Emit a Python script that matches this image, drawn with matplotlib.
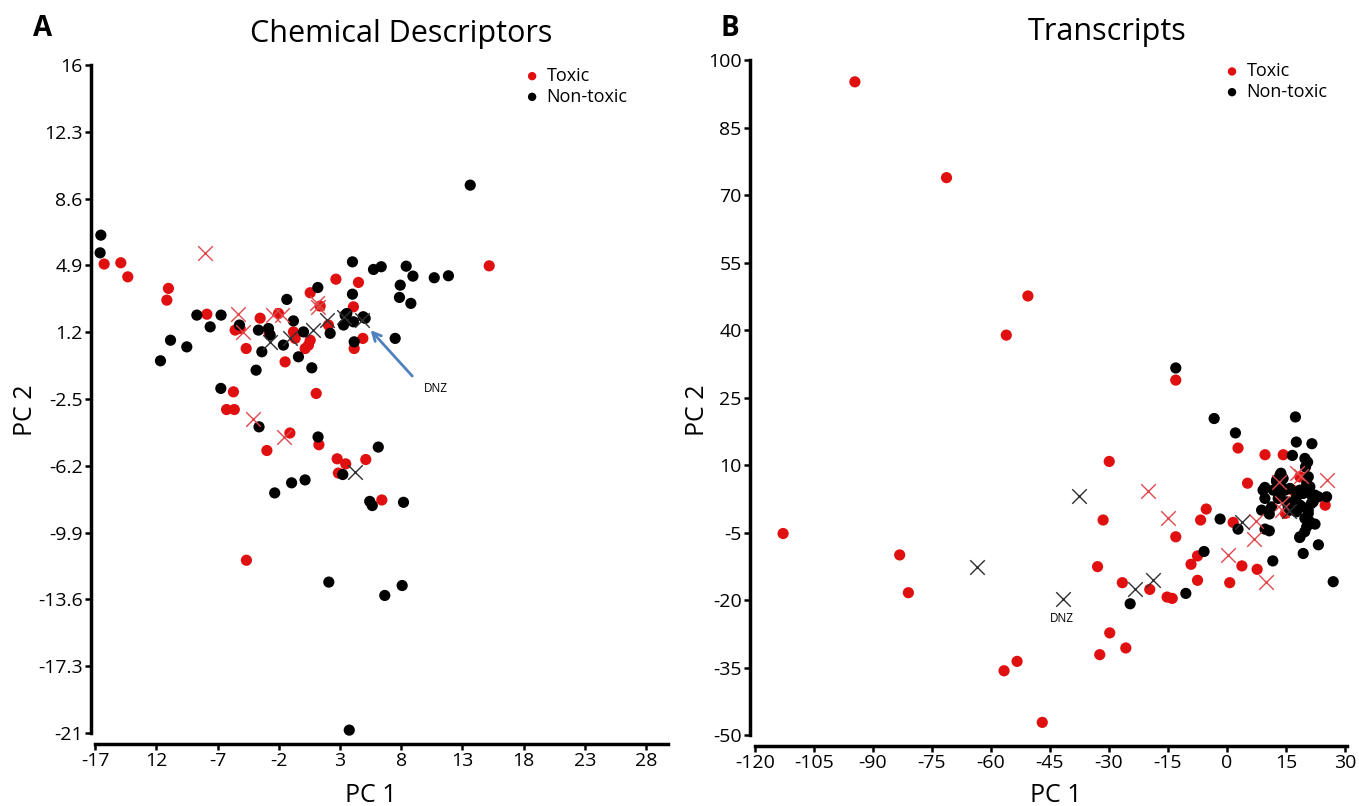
import matplotlib.pyplot as plt

plt.rcParams['font.family'] = ['Open Sans', 'DejaVu Sans']

# ---- Panel A: chemical descriptors ----
chem_tox_pc1 = [-16.26, -14.90, -14.33, -11.01, -11.14, -7.87, 2.67, 4.51, 0.57, 1.38,
                4.10, 15.19, -3.52, -5.56, -5.15, -2.78, -4.66, -0.80, -0.66, 0.43,
                0.16, 0.57, -1.48, 2.06, 4.87, 4.16, -5.70, 1.06, -2.02, -6.26,
                -5.63, -2.97, -1.09, 1.28, 2.77, 3.47, 5.11, 2.87, 6.42, -4.64]
chem_tox_pc2 = [4.98, 5.05, 4.27, 3.63, 2.98, 2.20, 4.14, 3.96, 3.39, 2.65,
                2.61, 4.88, 1.98, 1.32, 1.41, 1.14, 0.30, 1.22, 0.86, 0.49,
                0.30, 0.76, -0.44, 1.60, 0.86, 0.30, -2.10, -2.19, 2.24, -3.08,
                -3.08, -5.35, -4.38, -5.03, -5.81, -6.09, -5.85, -6.60, -8.09, -11.43]

chem_non_pc1 = [-16.53, -16.59, 1.19, -1.34, 4.02, 4.02, 5.74, 6.37, 8.41, 8.96,
                7.92, 7.86, 8.79, 10.70, 11.86, 13.64, -8.69, -6.71, 4.90, 3.56,
                -7.60, -9.51, -5.21, -3.66, -2.84, -2.70, -0.80, -1.62, -3.38, -0.39,
                0.02, 2.20, 3.29, 3.42, 4.10, 5.06, 4.16, 7.51, -3.85, 0.70,
                -6.73, -11.66, -10.84, -3.61, 1.21, 6.13, 3.23, 0.15, -0.95, -2.33,
                5.43, 5.64, 8.19, 2.09, 6.66, 8.08, 3.76]
chem_non_pc2 = [6.58, 5.60, 3.68, 3.02, 5.10, 3.31, 4.68, 4.83, 4.86, 4.31,
                3.81, 3.13, 2.80, 4.22, 4.33, 9.35, 2.15, 2.15, 2.06, 2.24,
                1.50, 0.39, 1.60, 1.32, 1.41, 1.04, 1.83, 0.49, 0.12, -0.16,
                1.22, 1.14, 1.60, 2.15, 1.78, 1.97, 0.67, 0.86, -0.90, -0.77,
                -1.91, -0.38, 0.76, -4.04, -4.60, -5.16, -6.68, -6.98, -7.14, -7.70,
                -8.17, -8.40, -8.22, -12.64, -13.38, -12.83, -20.84]

chem_tox_x_pc1 = [-8.01, -5.29, -2.43, -1.75, 1.11, -4.88, 1.24, -4.11, -1.56]
chem_tox_x_pc2 = [5.60, 2.20, 2.15, 2.15, 2.80, 1.22, 2.61, -3.58, -4.60]
chem_non_x_pc1 = [-2.70, -1.07, 0.83, 1.93, 3.29, 4.79, 4.21]
chem_non_x_pc2 = [0.67, 0.86, 1.32, 1.87, 2.06, 1.87, -6.52]

chem_xticks = [-17, -12, -7, -2, 3, 8, 13, 18, 23, 28]
chem_xlabels = ['-17', '12', '-7', '-2', '3', '8', '13', '18', '23', '28']
chem_yticks = [16, 12.3, 8.6, 4.9, 1.2, -2.5, -6.2, -9.9, -13.6, -17.3, -21]

# ---- Panel B: transcripts ----
tr_tox_pc1 = [-94.6, -71.3, -56.1, -50.6, -13.0, -112.86, -83.21, -81.0, -56.67, -53.36,
              -46.95, -29.92, -31.47, -32.89, -26.59, -29.79, -32.33, -25.70, -19.62, -15.2,
              -13.9, -13.0, -9.12, -7.47, -7.47, -6.68, -5.25, 0.72, 1.6, 3.82,
              2.83, 5.25, 7.69, 9.7, 14.33, 14.88, 25.0, 16.87, 18.57]
tr_tox_pc2 = [95.2, 73.9, 38.9, 47.6, 28.9, -5.2, -9.96, -18.36, -35.71, -33.62,
              -47.18, 10.82, -2.2, -12.56, -16.13, -27.29, -32.13, -30.64, -17.62, -19.33,
              -19.62, -5.93, -12.04, -10.18, -15.6, -2.2, 0.24, -16.13, -2.73, -12.4,
              13.8, 5.98, -13.16, 12.31, 12.31, -0.71, 1.1, 4.36, 7.4]

tr_non_pc1 = [-13.0, -24.6, -10.44, -5.81, -1.72, 2.83, -3.24, 2.17, 17.43, 17.66,
              21.62, 20.53, 16.66, 11.68, 10.79, 9.7, 19.41, 23.27, 27.04, 18.52,
              22.41, 10.79, 19.84, 9.67, 13.49, 12.64, 13.92, 16.03, 9.67, 10.51,
              13.49, 15.19, 17.73, 19.41, 21.55, 23.23, 25.36, 18.57, 20.68, 21.95,
              19.84, 21.11, 18.57, 8.83, 11.37, 16.03,
              20.0, 13.74, 14.3, 12.65, 9.2, 11.8, 14.8, 20.7, 20.3, 21.1,
              18.57, 13.05, 17.3, 22.4, 21.5, 19.1, 15.6, 17.7, 20.7, 21.1,
              20.3, 19.8]
tr_non_pc2 = [31.6, -20.82, -18.51, -9.2, -1.98, -4.22, 20.36, 17.16, 20.71, 15.13,
              14.76, 10.67, 12.16, -11.29, -4.6, -4.22, -9.64, -7.71, -15.91, -6.09,
              -3.11, -0.87, 11.49, 5.04, 7.78, 6.67, 5.18, 4.82, 2.6, -0.38,
              2.96, 1.84, 2.96, 3.71, 3.33, 2.96, 2.96, 1.11, 0.0, 1.84,
              -1.84, -2.96, -5.93, 0.0, 0.73, 0.0,
              9.6, 8.2, 7.04, 6.3, 4.44, 4.44, 4.44, 7.4, 5.9, 5.2,
              4.44, 2.6, 2.2, 3.33, 1.5, 0.73, 0.73, -0.38, -0.73, -2.6,
              -3.7, -4.8]

tr_tox_x_pc1 = [-20.18, -14.86, 0.29, 7.46, 6.93, 10.03, 25.38, 13.33, 18.85, 14.09, 17.73, 13.9]
tr_tox_x_pc2 = [4.36, -1.84, -9.96, -2.36, -6.44, -15.98, 6.73, 6.2, 7.69, 1.62, 8.16, 0.0]
tr_non_x_pc1 = [-37.54, -63.53, -41.74, -23.28, -18.73, 3.93, 15.77]
tr_non_x_pc2 = [3.22, -12.62, -19.84, -17.62, -15.6, -2.73, -0.13]

tr_xticks = [-120, -105, -90, -75, -60, -45, -30, -15, 0, 15, 30]
tr_yticks = [100, 85, 70, 55, 40, 25, 10, -5, -20, -35, -50]

RED = '#e01010'
RED_X = '#e0484c'
BLACK = '#000000'
DARK_X = '#303030'

fig = plt.figure(figsize=(13.59, 8.06), dpi=100)

axA = fig.add_axes([0.067, 0.0769, 0.4246, 0.8486])
axB = fig.add_axes([0.5519, 0.0744, 0.44, 0.857])


def style(ax, xlim, ylim, xb, yb, xt, xl, yt):
    ax.set_xlim(*xlim)
    ax.set_ylim(*ylim)
    for s in ['top', 'right']:
        ax.spines[s].set_visible(False)
    for s in ['left', 'bottom']:
        ax.spines[s].set_linewidth(2.5)
    ax.spines['bottom'].set_bounds(*xb)
    ax.spines['left'].set_bounds(*yb)
    ax.set_xticks(xt)
    ax.set_xticklabels(xl)
    ax.set_yticks(yt)
    ax.set_yticklabels([('%g' % v) for v in yt])
    ax.tick_params(direction='out', length=4, width=1.8, labelsize=14, pad=2)


def draw(ax, tx, ty, nx, ny, txx, txy, nxx, nxy):
    ax.scatter(tx, ty, s=65, color=RED, edgecolors='none', zorder=3, label='Toxic')
    ax.scatter(nx, ny, s=65, color=BLACK, edgecolors='none', zorder=3, label='Non-toxic')
    ax.scatter(txx, txy, s=110, marker='x', color=RED_X, linewidths=1.0, zorder=4)
    ax.scatter(nxx, nxy, s=110, marker='x', color=DARK_X, linewidths=1.0, zorder=4)


draw(axA, chem_tox_pc1, chem_tox_pc2, chem_non_pc1, chem_non_pc2,
     chem_tox_x_pc1, chem_tox_x_pc2, chem_non_x_pc1, chem_non_x_pc2)
style(axA, (-17.33, 29.8), (-21.61, 16.28), (-17, 29.8), (-21, 16),
      chem_xticks, chem_xlabels, chem_yticks)

draw(axB, tr_tox_pc1, tr_tox_pc2, tr_non_pc1, tr_non_pc2,
     tr_tox_x_pc1, tr_tox_x_pc2, tr_non_x_pc1, tr_non_x_pc2)
style(axB, (-121.27, 30.8), (-52.44, 101.1), (-120, 30.5), (-50, 100),
      tr_xticks, [('%g' % v) for v in tr_xticks], tr_yticks)

# DNZ annotations
axA.annotate('', xy=(5.35, 1.43), xytext=(9.06, -1.34),
             arrowprops=dict(arrowstyle='->', color='#4f81bd', lw=2, mutation_scale=15))
axA.text(10.86, -1.89, 'DNZ', fontsize=8.5, ha='center', va='center')
axB.text(-41.9, -24.2, 'DNZ', fontsize=8.5, ha='center', va='center')

for ax, lx in [(axA, 0.755), (axB, 0.797)]:
    ax.legend(loc='upper left', bbox_to_anchor=(lx, 0.99), frameon=False, fontsize=13,
              borderpad=0, borderaxespad=0, handlelength=0.6, handletextpad=0.5,
              labelspacing=0.15, markerscale=0.75)

# titles, panel letters, axis labels
fig.text(401 / 1359, 1 - 42 / 806, 'Chemical Descriptors', fontsize=22, ha='center', va='baseline')
fig.text(1107 / 1359, 1 - 40 / 806, 'Transcripts', fontsize=22, ha='center', va='baseline')
fig.text(43 / 1359, 1 - 28 / 806, 'A', fontsize=20, fontweight='bold', ha='center', va='center')
fig.text(730 / 1359, 1 - 28 / 806, 'B', fontsize=20, fontweight='bold', ha='center', va='center')
fig.text(371 / 1359, 1 - 795 / 806, 'PC 1', fontsize=18, ha='center', va='center')
fig.text(1056 / 1359, 1 - 795 / 806, 'PC 1', fontsize=18, ha='center', va='center')
fig.text(25 / 1359, 1 - 410 / 806, 'PC 2', fontsize=18, ha='center', va='center', rotation=90)
fig.text(698 / 1359, 1 - 410 / 806, 'PC 2', fontsize=18, ha='center', va='center', rotation=90)

plt.savefig('out.png', dpi=100)
